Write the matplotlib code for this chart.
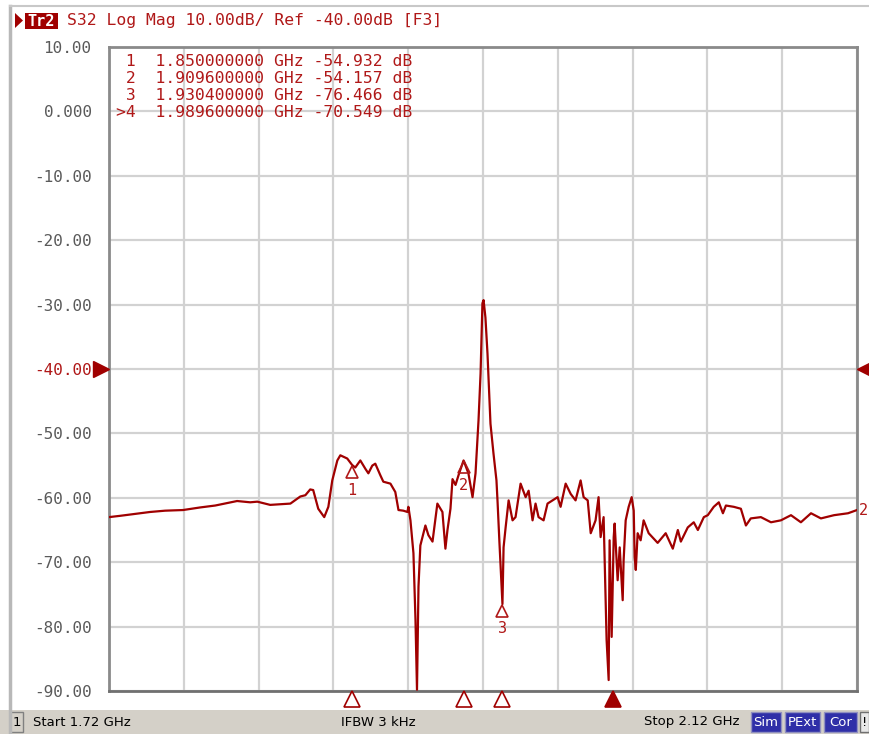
import matplotlib.pyplot as plt
from matplotlib.patches import Rectangle, Polygon
from matplotlib.transforms import offset_copy, blended_transform_factory

# trace, frequency in GHz and S32 in dB
freq = [1.7200, 1.7259, 1.7339, 1.7420, 1.7500, 1.7596, 1.7687, 1.7768, 1.7885, 1.7955,
        1.7993, 1.8062, 1.8116, 1.8170, 1.8223, 1.8250, 1.8276, 1.8292, 1.8319, 1.8351,
        1.8373, 1.8394, 1.8421, 1.8437, 1.8474, 1.8500, 1.8517, 1.8544, 1.8571, 1.8587,
        1.8608, 1.8624, 1.8651, 1.8667, 1.8705, 1.8731, 1.8748, 1.8774, 1.8796, 1.8801,
        1.8812, 1.8828, 1.8839, 1.8847, 1.8855, 1.8865, 1.8892, 1.8908, 1.8930, 1.8956,
        1.8983, 1.8999, 1.9010, 1.9026, 1.9037, 1.9053, 1.9069, 1.9096, 1.9122, 1.9144,
        1.9160, 1.9176, 1.9187, 1.9197, 1.9203, 1.9213, 1.9224, 1.9240, 1.9256, 1.9272,
        1.9278, 1.9288, 1.9304, 1.9310, 1.9321, 1.9337, 1.9358, 1.9374, 1.9401, 1.9428,
        1.9444, 1.9465, 1.9481, 1.9497, 1.9524, 1.9545, 1.9572, 1.9599, 1.9615, 1.9642,
        1.9669, 1.9695, 1.9722, 1.9738, 1.9760, 1.9776, 1.9802, 1.9818, 1.9829, 1.9845,
        1.9861, 1.9872, 1.9877, 1.9888, 1.9896, 1.9899, 1.9904, 1.9920, 1.9931, 1.9947,
        1.9952, 1.9963, 1.9979, 1.9995, 2.0006, 2.0011, 2.0017, 2.0027, 2.0043, 2.0059,
        2.0086, 2.0134, 2.0177, 2.0215, 2.0242, 2.0258, 2.0295, 2.0327, 2.0349, 2.0381,
        2.0402, 2.0434, 2.0461, 2.0483, 2.0499, 2.0541, 2.0579, 2.0606, 2.0632, 2.0686,
        2.0740, 2.0793, 2.0847, 2.0900, 2.0954, 2.1007, 2.1077, 2.1152, 2.1200]
s32 = [-63.0, -62.8, -62.5, -62.2, -62.0, -61.9, -61.5, -61.2, -60.5, -60.7,
       -60.6, -61.1, -61.0, -60.9, -59.8, -59.6, -58.7, -58.8, -61.7, -63.0,
       -61.4, -57.3, -54.2, -53.4, -53.9, -54.9, -55.3, -54.2, -55.5, -56.2,
       -55.0, -54.7, -56.5, -57.5, -57.8, -59.1, -61.9, -62.0, -62.2, -61.4,
       -63.5, -68.6, -79.0, -89.8, -73.8, -67.4, -64.3, -65.8, -66.8, -60.9,
       -62.2, -67.9, -65.0, -61.7, -57.1, -58.0, -56.5, -54.2, -56.2, -59.9,
       -56.2, -48.0, -40.7, -29.8, -29.3, -32.0, -37.6, -48.5, -53.1, -57.3,
       -60.7, -67.0, -76.5, -67.7, -64.6, -60.4, -63.5, -63.0, -57.8, -59.9,
       -58.9, -63.5, -60.9, -63.0, -63.5, -60.9, -60.4, -59.9, -61.4, -57.8,
       -59.4, -60.4, -57.3, -59.9, -60.4, -65.5, -63.5, -59.9, -66.1, -63.0,
       -82.1, -88.3, -66.6, -81.6, -70.5, -66.1, -64.0, -72.8, -67.7, -75.9,
       -69.7, -63.5, -61.4, -59.9, -62.0, -69.2, -71.2, -65.5, -66.6, -63.5,
       -65.5, -67.0, -65.5, -67.9, -65.0, -66.8, -64.6, -63.8, -65.0, -63.0,
       -62.7, -61.4, -60.7, -62.4, -61.2, -61.4, -61.7, -64.3, -63.2, -63.0,
       -63.8, -63.5, -62.7, -63.8, -62.4, -63.2, -62.7, -62.4, -61.9]

# markers
mk_num = ['1', '2', '3', '4']
mk_freq = [1.8500, 1.9096, 1.9304, 1.9896]
mk_val = [-54.932, -54.157, -76.466, -70.549]

y_ticks = [10, 0, -10, -20, -30, -40, -50, -60, -70, -80, -90]
y_labels = ['10.00', '0.000', '-10.00', '-20.00', '-30.00', '-40.00',
            '-50.00', '-60.00', '-70.00', '-80.00', '-90.00']
ref_level = -40

TRACE = '#a00000'
RED = '#b01818'
GRAY = '#5a5a5a'
MONO = 'DejaVu Sans Mono'

W, H = 870, 734
fig = plt.figure(figsize=(W / 100, H / 100), dpi=100)
fig.patch.set_facecolor('white')


def px(x, y):
    return x / W, 1 - y / H


# window border
fig.add_artist(plt.Line2D([10 / W, 10 / W], [0, 1 - 6 / H], color='#b8b8b8', lw=2.5))
fig.add_artist(plt.Line2D([10 / W, 1], [1 - 6 / H, 1 - 6 / H], color='#c8c8c8', lw=1.5))

ax = fig.add_axes([109 / W, 1 - 691 / H, 748 / W, 644 / H])
ax.set_xlim(1.72, 2.12)
ax.set_ylim(-90, 10)
ax.set_xticks([1.72 + 0.04 * i for i in range(11)])
ax.set_yticks(y_ticks)
ax.grid(True, color='#d2d2d2', lw=1.6)
ax.set_axisbelow(True)
ax.tick_params(axis='x', length=0, labelbottom=False)
ax.tick_params(axis='y', length=0, pad=12.5)
ax.set_yticklabels(y_labels, fontfamily=MONO, fontsize=11.5, color=GRAY)
for lab, v in zip(ax.get_yticklabels(), y_ticks):
    if v == ref_level:
        lab.set_color(RED)
for side in ax.spines.values():
    side.set_color('#8a8a8a')
    side.set_linewidth(2)
ax.spines['bottom'].set_color('#707070')

ax.plot(freq, s32, color=TRACE, lw=1.6, zorder=3)

# marker symbols on the trace (1..3), apex at the trace point
down = offset_copy(ax.transData, fig=fig, y=-5, units='points')
for n, f, v in zip(mk_num[:3], mk_freq[:3], mk_val[:3]):
    ax.plot(f, v, marker='^', ms=9, mfc='none', mec=RED, mew=1.2,
            transform=down, zorder=4)
    ax.annotate(n, (f, v), xytext=(0, -12.5), textcoords='offset points',
                ha='center', va='top', fontfamily=MONO, fontsize=11, color=RED)

# marker triangles under the x axis
bx = blended_transform_factory(ax.transData, ax.transAxes)
for i, f in enumerate(mk_freq):
    filled = i == 3
    ax.plot(f, -7.5 / 644, marker='^', ms=11, transform=bx, clip_on=False,
            mfc=TRACE if filled else 'white', mec=TRACE, mew=1.2, zorder=5)

# reference level arrows
by = blended_transform_factory(ax.transAxes, ax.transData)
ax.plot(-8 / 748, ref_level, marker='>', ms=11, color=TRACE, transform=by,
        clip_on=False, zorder=6)
ax.plot(1 + 8 / 748, ref_level, marker='<', ms=11, color=TRACE, transform=by,
        clip_on=False, zorder=6)
ax.text(1 + 2 / 748, s32[-1], '2', transform=by, ha='left', va='center',
        fontfamily=MONO, fontsize=11, color=RED)

# marker table
for i, (n, f, v) in enumerate(zip(mk_num, mk_freq, mk_val)):
    tag = '>' + n if i == 3 else ' ' + n
    fig.text(*px(116, 62 + 16.7 * i), f'{tag}  {f:.9f} GHz {v:.3f} dB',
             fontfamily=MONO, fontsize=11.8, color=RED, va='center')

# header
fig.add_artist(Polygon([px(15, 13), px(15, 28), px(23, 20.5)], closed=True,
                       facecolor=TRACE, edgecolor='none', transform=fig.transFigure))
fig.add_artist(Rectangle(px(25, 29), 33 / W, 16 / H, facecolor=TRACE,
                         edgecolor='none', transform=fig.transFigure))
fig.text(*px(41.5, 21), 'Tr2', fontfamily=MONO, fontsize=11, color='white',
         fontweight='bold', ha='center', va='center')
fig.text(*px(67, 21), 'S32 Log Mag 10.00dB/ Ref -40.00dB [F3]',
         fontfamily=MONO, fontsize=11.8, color=RED, va='center')

# status bar
fig.add_artist(Rectangle((0, 0), 1, 24 / H, facecolor='#d4d0c8', edgecolor='none',
                         transform=fig.transFigure))
fig.add_artist(Rectangle(px(10, 732), 13 / W, 20 / H, facecolor='#d4d0c8',
                         edgecolor='#808080', lw=1, transform=fig.transFigure))
fig.text(*px(16.5, 722), '1', fontsize=9.5, ha='center', va='center', color='black')
fig.text(*px(33, 722), 'Start 1.72 GHz', fontsize=9.5, va='center', color='black')
fig.text(*px(378, 722), 'IFBW 3 kHz', fontsize=9.5, ha='center', va='center', color='black')
fig.text(*px(740, 722), 'Stop 2.12 GHz', fontsize=9.5, ha='right', va='center', color='black')
for lab, x0, x1 in [('Sim', 751, 781), ('PExt', 785, 820), ('Cor', 824, 857)]:
    fig.add_artist(Rectangle(px(x0, 732), (x1 - x0) / W, 20 / H, facecolor='#2f2fa8',
                             edgecolor='#9090c0', lw=1, transform=fig.transFigure))
    fig.text(*px((x0 + x1) / 2, 722), lab, fontsize=9.5, ha='center', va='center',
             color='white')
fig.add_artist(Rectangle(px(860, 732), 9 / W, 20 / H, facecolor='#e8e8e8',
                         edgecolor='#707070', lw=1, transform=fig.transFigure))
fig.text(*px(864.5, 722), '!', fontsize=9.5, ha='center', va='center', color='black')

fig.savefig('out.png', dpi=100)
